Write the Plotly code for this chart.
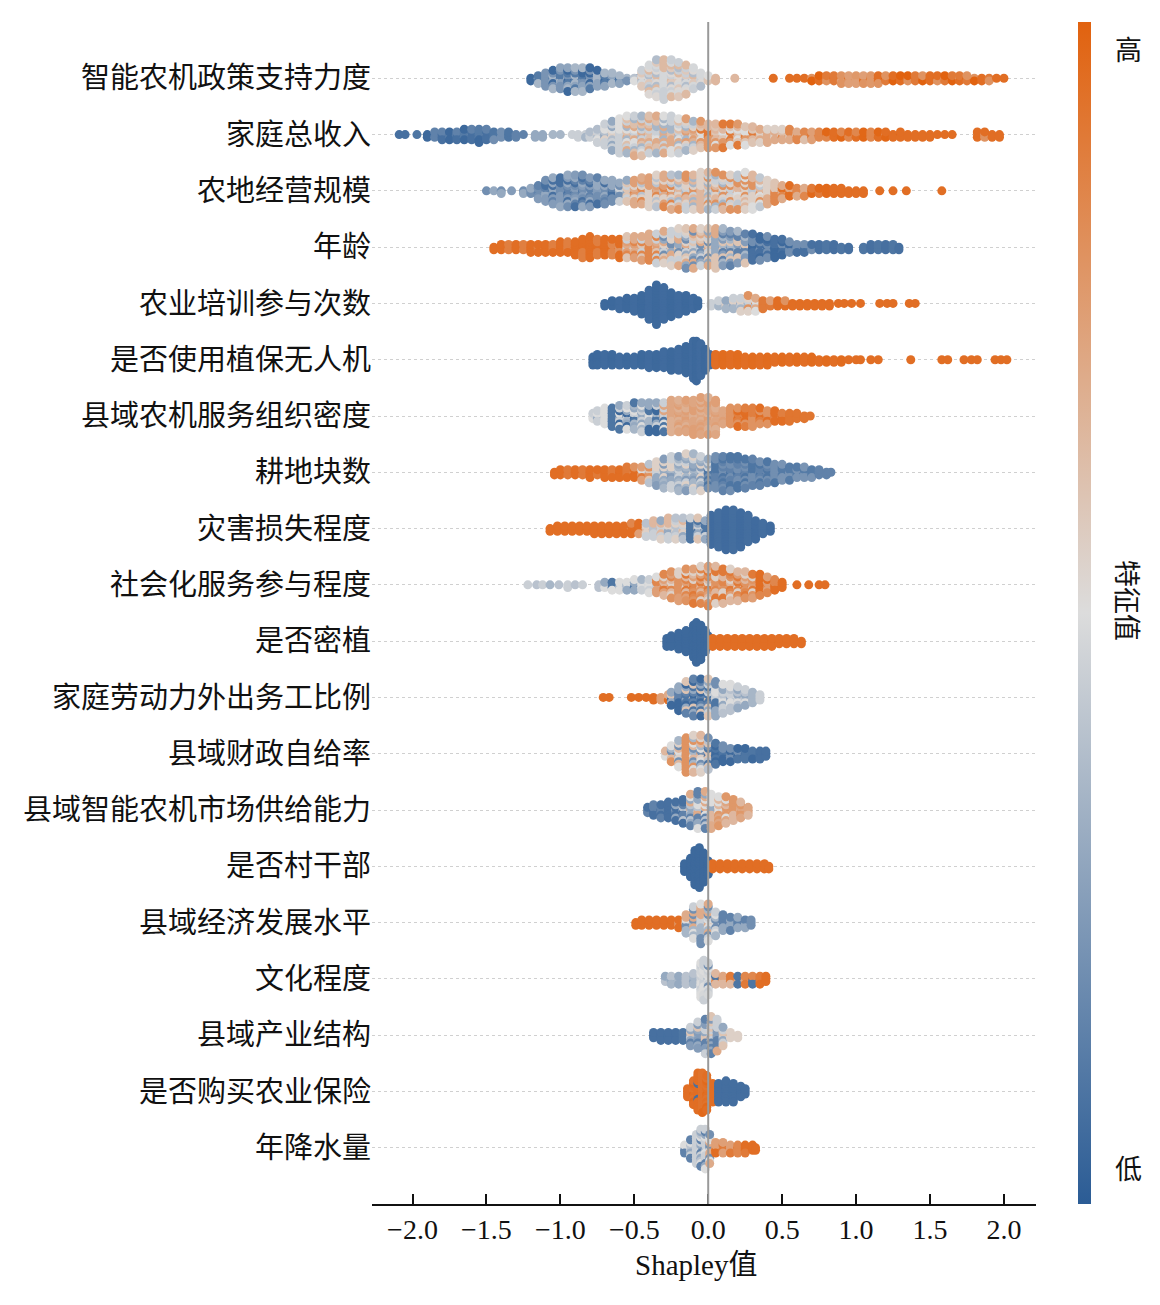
import plotly.graph_objects as go

# feature names, top to bottom
features = [
    "智能农机政策支持力度", "家庭总收入", "农地经营规模", "年龄", "农业培训参与次数",
    "是否使用植保无人机", "县域农机服务组织密度", "耕地块数", "灾害损失程度", "社会化服务参与程度",
    "是否密植", "家庭劳动力外出务工比例", "县域财政自给率", "县域智能农机市场供给能力", "是否村干部",
    "县域经济发展水平", "文化程度", "县域产业结构", "是否购买农业保险", "年降水量",
]

# SHAP value bins, per feature:
# (shap value, number of dots stacked there, feature value(s) 0=low 1=high)
B1 = [0.12, 0.28, 0.05, 0.22, 0.35]
G1 = [0.45, 0.52, 0.38, 0.58, 0.64, 0.48]
O1 = [0.95, 0.8, 0.9, 1.0]
swarm_bins = [
    # 智能农机政策支持力度
    [(-1.20, 2, B1), (-1.15, 4, B1), (-1.10, 6, B1), (-1.05, 8, B1), (-1.00, 9, B1), (-0.95, 10, B1),
     (-0.90, 10, B1), (-0.85, 10, B1), (-0.80, 9, B1), (-0.75, 7, B1), (-0.70, 6, B1), (-0.65, 5, B1),
     (-0.60, 4, B1), (-0.55, 2, B1), (-0.47, 1, 0.05),
     (-0.50, 2, [0.4, 0.5]), (-0.45, 7, G1), (-0.40, 12, G1), (-0.35, 15, G1), (-0.30, 16, G1),
     (-0.25, 15, G1), (-0.20, 14, G1), (-0.15, 12, G1), (-0.10, 9, G1), (-0.05, 6, G1), (0.00, 3, [0.6, 0.5]),
     (0.05, 2, 0.65), (0.18, 1, 0.65),
     (0.44, 1, 0.95), (0.55, 1, 0.95), (0.60, 1, 0.95), (0.65, 1, 0.95), (0.70, 2, O1), (0.75, 3, O1),
     (0.80, 3, O1), (0.85, 3, O1), (0.90, 4, [0.8, 0.75, 0.95]), (0.95, 4, [0.8, 0.75, 0.95]),
     (1.00, 4, [0.78, 0.9, 0.75]), (1.05, 4, [0.8, 0.75, 0.95]), (1.10, 4, [0.78, 0.9]), (1.15, 4, [0.8, 0.95]),
     (1.20, 3, O1), (1.25, 3, O1), (1.30, 3, O1), (1.35, 3, O1), (1.40, 3, O1), (1.45, 3, O1), (1.50, 3, O1),
     (1.55, 3, O1), (1.60, 3, O1), (1.65, 3, O1), (1.70, 3, O1), (1.75, 3, O1), (1.80, 2, O1), (1.85, 2, O1),
     (1.90, 2, O1), (1.95, 1, 0.95), (2.00, 1, 0.95)],
    # 家庭总收入
    [(-2.09, 1, 0.08), (-2.05, 1, 0.08), (-1.97, 1, 0.1), (-1.90, 2, [0.05, 0.15]), (-1.85, 3, [0.05, 0.15]),
     (-1.80, 4, [0.08, 0.15]), (-1.75, 4, [0.05, 0.12]), (-1.70, 4, [0.08, 0.15]), (-1.65, 5, [0.05, 0.12]),
     (-1.60, 5, [0.08, 0.15]), (-1.55, 6, [0.05, 0.12]), (-1.50, 5, [0.08, 0.15]), (-1.45, 4, [0.1, 0.2]),
     (-1.40, 3, [0.12, 0.2]), (-1.35, 3, [0.1, 0.2]), (-1.30, 2, 0.15), (-1.25, 1, 0.15),
     (-1.17, 2, 0.3), (-1.12, 2, 0.3), (-1.05, 1, 0.35), (-1.00, 1, 0.35),
     (-0.92, 1, 0.45), (-0.88, 2, [0.45, 0.4]), (-0.83, 2, [0.45, 0.35]),
     (-0.80, 3, [0.45, 0.38]), (-0.75, 6, [0.45, 0.38, 0.55, 0.5, 0.3]), (-0.70, 9, [0.45, 0.38, 0.55, 0.5, 0.3]),
     (-0.65, 12, [0.45, 0.38, 0.55, 0.5, 0.3]), (-0.60, 14, [0.45, 0.38, 0.55, 0.5, 0.3]),
     (-0.55, 15, [0.5, 0.62, 0.45, 0.7, 0.35]), (-0.50, 16, [0.5, 0.62, 0.45, 0.7, 0.35]),
     (-0.45, 16, [0.5, 0.62, 0.45, 0.7, 0.35]), (-0.40, 15, [0.5, 0.62, 0.45, 0.7, 0.35]),
     (-0.35, 15, [0.5, 0.62, 0.45, 0.7, 0.35]), (-0.30, 15, [0.5, 0.62, 0.45, 0.7, 0.35]),
     (-0.25, 15, [0.5, 0.62, 0.45, 0.7, 0.35]), (-0.20, 14, [0.5, 0.62, 0.45, 0.7, 0.35]),
     (-0.15, 13, [0.55, 0.68, 0.45, 0.75, 0.35]), (-0.10, 12, [0.55, 0.68, 0.45, 0.75, 0.35]),
     (-0.05, 11, [0.65, 0.78, 0.5, 0.9, 0.6]), (0.00, 10, [0.65, 0.78, 0.5, 0.9, 0.6]),
     (0.05, 10, [0.65, 0.78, 0.5, 0.9, 0.6]), (0.10, 10, [0.65, 0.78, 0.5, 0.9, 0.6]),
     (0.15, 9, [0.65, 0.78, 0.5, 0.9, 0.6]), (0.20, 9, [0.65, 0.78, 0.5, 0.9, 0.6]),
     (0.25, 8, [0.65, 0.78, 0.5, 0.9, 0.6]), (0.30, 7, [0.65, 0.78, 0.5, 0.9, 0.6]),
     (0.35, 6, [0.7, 0.55, 0.85, 0.62]), (0.40, 6, [0.7, 0.55, 0.85, 0.62]), (0.45, 5, [0.7, 0.55, 0.85, 0.62]),
     (0.50, 5, [0.7, 0.55, 0.85, 0.62]), (0.55, 5, [0.7, 0.55, 0.85, 0.62]), (0.60, 4, [0.7, 0.85, 0.62]),
     (0.65, 4, [0.7, 0.85, 0.62]), (0.70, 4, [0.75, 0.9]), (0.75, 3, [0.85, 0.95]),
     (0.80, 3, [0.95, 0.85, 0.98]), (0.85, 3, [0.95, 0.85, 0.98]), (0.90, 3, [0.95, 0.85, 0.98]),
     (0.95, 3, [0.95, 0.85, 0.98]), (1.00, 3, [0.95, 0.85, 0.98]), (1.05, 3, [0.95, 0.85, 0.98]),
     (1.10, 3, [0.95, 0.85, 0.98]), (1.15, 3, [0.95, 0.85, 0.98]), (1.20, 3, [0.95, 0.85, 0.98]),
     (1.25, 2, 0.95), (1.30, 3, [0.95, 0.85, 0.98]), (1.35, 2, 0.95), (1.40, 2, 0.95), (1.45, 2, 0.95),
     (1.50, 2, 0.95), (1.55, 1, 0.95), (1.60, 1, 0.95), (1.65, 1, 0.95),
     (1.82, 3, [0.95, 0.8]), (1.87, 3, [0.95, 0.8]), (1.92, 2, 0.95), (1.97, 2, 0.95)],
    # 农地经营规模
    [(-1.50, 1, 0.2), (-1.45, 1, 0.3), (-1.40, 2, [0.2, 0.3]), (-1.33, 1, 0.25), (-1.25, 2, [0.2, 0.3]),
     (-1.20, 3, [0.2, 0.3]),
     (-1.15, 6, [0.15, 0.25, 0.08, 0.3, 0.2]), (-1.10, 9, [0.15, 0.25, 0.08, 0.3, 0.2]),
     (-1.05, 11, [0.15, 0.25, 0.08, 0.3, 0.2]), (-1.00, 12, [0.15, 0.25, 0.08, 0.3, 0.2]),
     (-0.95, 13, [0.15, 0.25, 0.08, 0.3, 0.2]), (-0.90, 13, [0.15, 0.25, 0.08, 0.3, 0.2]),
     (-0.85, 13, [0.15, 0.25, 0.08, 0.3, 0.2]), (-0.80, 12, [0.15, 0.25, 0.08, 0.3, 0.2]),
     (-0.75, 11, [0.15, 0.25, 0.08, 0.3, 0.2]), (-0.70, 10, [0.15, 0.25, 0.08, 0.3, 0.2]),
     (-0.65, 9, [0.15, 0.25, 0.08, 0.3, 0.2]), (-0.60, 8, [0.2, 0.3, 0.45]),
     (-0.55, 9, [0.3, 0.6, 0.45]), (-0.50, 10, [0.7, 0.85, 0.55, 0.4, 0.75]),
     (-0.45, 11, [0.7, 0.85, 0.55, 0.4, 0.75]), (-0.40, 12, [0.7, 0.85, 0.55, 0.4, 0.75]),
     (-0.35, 13, [0.7, 0.85, 0.55, 0.4, 0.75]), (-0.30, 13, [0.7, 0.85, 0.55, 0.4, 0.75]),
     (-0.25, 14, [0.7, 0.85, 0.55, 0.4, 0.75]), (-0.20, 14, [0.65, 0.45, 0.8, 0.55, 0.35]),
     (-0.15, 14, [0.65, 0.45, 0.8, 0.55, 0.35]), (-0.10, 14, [0.65, 0.45, 0.8, 0.55, 0.35]),
     (-0.05, 15, [0.65, 0.45, 0.8, 0.55, 0.35]), (0.00, 15, [0.65, 0.45, 0.8, 0.55, 0.35]),
     (0.05, 15, [0.65, 0.45, 0.8, 0.55, 0.35]), (0.10, 14, [0.65, 0.45, 0.8, 0.55, 0.35]),
     (0.15, 14, [0.65, 0.45, 0.8, 0.55, 0.35]), (0.20, 14, [0.5, 0.42, 0.65, 0.55, 0.8]),
     (0.25, 15, [0.5, 0.42, 0.65, 0.55, 0.8]), (0.30, 14, [0.5, 0.42, 0.65, 0.55, 0.8]),
     (0.35, 12, [0.5, 0.42, 0.65, 0.55, 0.8]), (0.40, 10, [0.55, 0.7, 0.45, 0.8]),
     (0.45, 8, [0.6, 0.75, 0.85]),
     (0.50, 6, [0.85, 0.95, 0.7]), (0.55, 5, [0.85, 0.95, 0.7]), (0.60, 4, [0.85, 0.95, 0.7]),
     (0.65, 4, [0.85, 0.95, 0.7]), (0.70, 3, [0.9, 0.97]), (0.75, 3, [0.9, 0.97]), (0.80, 3, [0.95, 0.97]),
     (0.85, 3, 0.95), (0.90, 3, 0.95), (0.95, 2, 0.95), (1.00, 2, 0.95), (1.05, 2, 0.95),
     (1.16, 1, 0.95), (1.25, 1, 0.95), (1.34, 1, 0.95), (1.58, 1, 0.95)],
    # 年龄
    [(-1.45, 2, 0.95), (-1.40, 3, 0.95), (-1.35, 3, [0.95, 0.88]), (-1.30, 3, 0.95), (-1.25, 3, [0.95, 0.88]),
     (-1.20, 4, 0.95), (-1.15, 4, [0.95, 0.88]), (-1.10, 4, 0.95), (-1.05, 4, [0.95, 0.88]), (-1.00, 5, 0.95),
     (-0.95, 5, [0.95, 0.88]), (-0.90, 6, 0.95), (-0.85, 8, [0.95, 0.88]), (-0.80, 9, 0.95),
     (-0.75, 7, [0.95, 0.88]), (-0.70, 7, 0.95), (-0.65, 7, [0.95, 0.85]), (-0.60, 8, [0.95, 0.8]),
     (-0.55, 9, [0.75, 0.6, 0.85, 0.45, 0.7]), (-0.50, 9, [0.75, 0.6, 0.85, 0.45, 0.7]),
     (-0.45, 10, [0.75, 0.6, 0.85, 0.45, 0.7]), (-0.40, 11, [0.75, 0.6, 0.85, 0.45, 0.7]),
     (-0.35, 12, [0.75, 0.6, 0.85, 0.45, 0.7]), (-0.30, 13, [0.6, 0.3, 0.7, 0.45, 0.55, 0.2]),
     (-0.25, 14, [0.6, 0.3, 0.7, 0.45, 0.55, 0.2]), (-0.20, 15, [0.6, 0.3, 0.7, 0.45, 0.55, 0.2]),
     (-0.15, 16, [0.6, 0.3, 0.7, 0.45, 0.55, 0.2]), (-0.10, 16, [0.6, 0.3, 0.7, 0.45, 0.55, 0.2]),
     (-0.05, 15, [0.6, 0.3, 0.7, 0.45, 0.55, 0.2]), (0.00, 15, [0.6, 0.3, 0.7, 0.45, 0.55, 0.2]),
     (0.05, 16, [0.6, 0.3, 0.7, 0.45, 0.55, 0.2]), (0.10, 15, [0.35, 0.15, 0.6, 0.25]),
     (0.15, 14, [0.35, 0.15, 0.6, 0.25]), (0.20, 13, [0.35, 0.15, 0.6, 0.25]),
     (0.25, 12, [0.35, 0.15, 0.6, 0.25]),
     (0.30, 11, [0.08, 0.2, 0.05]), (0.35, 10, [0.08, 0.2, 0.05]), (0.40, 9, [0.08, 0.2, 0.05]),
     (0.45, 8, [0.08, 0.2, 0.05]), (0.50, 7, [0.08, 0.2, 0.05]), (0.55, 5, [0.08, 0.2, 0.05]),
     (0.60, 4, [0.08, 0.2]), (0.65, 4, [0.08, 0.2]), (0.70, 3, [0.08, 0.2]), (0.75, 3, 0.08),
     (0.80, 3, 0.1), (0.85, 3, 0.08), (0.90, 2, 0.1), (0.95, 2, 0.08), (1.05, 2, 0.1), (1.10, 3, 0.08),
     (1.15, 3, 0.1), (1.20, 3, 0.08), (1.25, 3, 0.1), (1.29, 2, 0.08)],
    # 农业培训参与次数
    [(-0.70, 2, 0.05), (-0.65, 3, 0.05), (-0.60, 4, 0.06), (-0.55, 5, 0.05), (-0.50, 6, 0.06),
     (-0.45, 8, 0.05), (-0.40, 12, 0.06), (-0.35, 16, 0.05), (-0.30, 13, 0.06), (-0.25, 10, 0.05),
     (-0.20, 8, 0.06), (-0.15, 7, 0.05), (-0.10, 5, 0.06), (-0.07, 3, 0.05),
     (0.02, 2, 0.45), (0.07, 3, [0.45, 0.35]), (0.12, 4, [0.45, 0.35, 0.55, 0.3]),
     (0.17, 5, [0.45, 0.35, 0.55, 0.3]), (0.22, 6, [0.45, 0.35, 0.55, 0.3]),
     (0.27, 7, [0.45, 0.35, 0.55, 0.3, 0.8]), (0.32, 6, [0.5, 0.7, 0.4, 0.85]),
     (0.37, 4, [0.7, 0.9]), (0.42, 3, [0.9, 0.75]), (0.47, 3, 0.95), (0.52, 3, [0.95, 0.8]),
     (0.57, 2, 0.95), (0.62, 2, 0.95), (0.67, 2, 0.95), (0.72, 2, 0.95), (0.77, 2, 0.95),
     (0.82, 2, 0.95), (0.88, 1, 0.95), (0.92, 1, 0.95), (0.97, 1, 0.95), (1.03, 1, 0.95),
     (1.16, 1, 0.95), (1.21, 1, 0.95), (1.25, 1, 0.95), (1.36, 1, 0.95), (1.40, 1, 0.95)],
    # 是否使用植保无人机
    [(-0.78, 4, 0.05), (-0.75, 5, 0.05), (-0.70, 5, 0.06), (-0.65, 5, 0.05), (-0.60, 4, 0.06),
     (-0.55, 4, 0.05), (-0.50, 4, 0.06), (-0.45, 5, 0.05), (-0.40, 6, 0.06), (-0.35, 6, 0.05),
     (-0.30, 7, 0.06), (-0.25, 8, 0.05), (-0.20, 9, 0.06), (-0.15, 11, 0.05), (-0.10, 15, 0.06),
     (-0.08, 16, 0.05), (-0.05, 13, 0.06), (-0.02, 9, 0.05), (0.01, 5, 0.06),
     (0.05, 5, 0.95), (0.10, 5, 0.96), (0.15, 5, 0.95), (0.20, 5, 0.96), (0.25, 4, 0.95), (0.30, 4, 0.96),
     (0.35, 4, 0.95), (0.40, 4, 0.96), (0.45, 3, 0.95), (0.50, 3, 0.96), (0.55, 3, 0.95), (0.60, 3, 0.96),
     (0.65, 3, 0.95), (0.70, 3, 0.96), (0.75, 2, 0.95), (0.80, 2, 0.96), (0.85, 2, 0.95), (0.90, 2, 0.96),
     (0.95, 1, 0.95), (1.00, 1, 0.95), (1.03, 1, 0.95), (1.10, 1, 0.95), (1.15, 1, 0.95),
     (1.37, 1, 0.95), (1.58, 1, 0.95), (1.62, 1, 0.95), (1.73, 1, 0.95), (1.78, 1, 0.95), (1.82, 1, 0.95),
     (1.94, 1, 0.95), (1.98, 1, 0.95), (2.02, 1, 0.95)],
    # 县域农机服务组织密度
    [(-0.78, 3, [0.45, 0.5]), (-0.75, 5, [0.45, 0.3, 0.5]), (-0.70, 7, [0.45, 0.3, 0.1, 0.5, 0.35]),
     (-0.65, 8, [0.45, 0.3, 0.1, 0.5, 0.35, 0.05]), (-0.60, 10, [0.45, 0.3, 0.1, 0.5, 0.35, 0.05]),
     (-0.55, 10, [0.45, 0.3, 0.1, 0.5, 0.35, 0.05]), (-0.50, 11, [0.45, 0.3, 0.1, 0.5, 0.35, 0.05]),
     (-0.45, 12, [0.45, 0.3, 0.1, 0.5, 0.35, 0.05]), (-0.40, 12, [0.45, 0.3, 0.1, 0.5, 0.35, 0.05]),
     (-0.35, 12, [0.45, 0.3, 0.1, 0.5, 0.35, 0.05]), (-0.30, 12, [0.5, 0.72, 0.1, 0.45]),
     (-0.25, 13, [0.72, 0.68, 0.75]), (-0.20, 13, [0.72, 0.68, 0.75]), (-0.15, 13, [0.72, 0.68, 0.75]),
     (-0.10, 14, [0.72, 0.68, 0.75]), (-0.05, 15, [0.72, 0.68, 0.75]), (0.00, 15, [0.72, 0.68, 0.75]),
     (0.05, 14, [0.72, 0.68, 0.75]), (0.10, 6, [0.72, 0.75]),
     (0.15, 7, [0.88, 0.95, 0.8]), (0.20, 8, [0.88, 0.95, 0.8]), (0.25, 8, [0.88, 0.95, 0.8]),
     (0.30, 8, [0.88, 0.95, 0.8]), (0.35, 7, [0.88, 0.95, 0.8]), (0.40, 6, [0.88, 0.95, 0.8]),
     (0.45, 5, [0.88, 0.95]), (0.50, 4, [0.88, 0.95]), (0.55, 4, 0.92), (0.60, 3, 0.92), (0.65, 2, 0.92),
     (0.69, 1, 0.92)],
    # 耕地块数
    [(-1.04, 2, 0.95), (-1.00, 3, 0.95), (-0.95, 3, [0.95, 0.9]), (-0.90, 3, 0.95), (-0.85, 3, [0.95, 0.9]),
     (-0.80, 4, 0.95), (-0.75, 3, [0.95, 0.9]), (-0.70, 4, 0.95), (-0.65, 4, [0.95, 0.9]), (-0.60, 4, 0.95),
     (-0.55, 5, [0.95, 0.9]), (-0.50, 5, [0.95, 0.8]), (-0.45, 6, [0.75, 0.9, 0.5]), (-0.40, 8, [0.6, 0.4, 0.8]),
     (-0.35, 10, [0.35, 0.45, 0.25, 0.55, 0.3]), (-0.30, 12, [0.35, 0.45, 0.25, 0.55, 0.3]),
     (-0.25, 13, [0.35, 0.45, 0.25, 0.55, 0.3]), (-0.20, 14, [0.35, 0.45, 0.25, 0.55, 0.3]),
     (-0.15, 15, [0.35, 0.45, 0.25, 0.55, 0.3]), (-0.10, 15, [0.35, 0.45, 0.25, 0.55, 0.3]),
     (-0.05, 14, [0.35, 0.45, 0.25, 0.55, 0.3]), (0.00, 12, [0.3, 0.2, 0.45, 0.1]),
     (0.05, 13, [0.1, 0.2, 0.15]), (0.10, 14, [0.1, 0.2, 0.15]), (0.15, 14, [0.1, 0.2, 0.15]),
     (0.20, 13, [0.1, 0.2, 0.15]), (0.25, 12, [0.1, 0.2, 0.15]), (0.30, 11, [0.1, 0.2, 0.15]),
     (0.35, 10, [0.1, 0.2, 0.15]), (0.40, 9, [0.1, 0.2, 0.15]), (0.45, 8, [0.1, 0.2, 0.15]),
     (0.50, 7, [0.12, 0.22]), (0.55, 6, [0.12, 0.22]), (0.60, 5, [0.12, 0.22]), (0.65, 5, [0.12, 0.22]),
     (0.70, 4, [0.12, 0.22]), (0.75, 3, 0.15), (0.80, 2, 0.15), (0.83, 1, 0.15)],
    # 灾害损失程度
    [(-1.07, 2, 0.95), (-1.02, 3, 0.95), (-0.97, 3, 0.95), (-0.92, 3, 0.95), (-0.87, 3, 0.95),
     (-0.82, 3, 0.95), (-0.77, 4, 0.95), (-0.72, 4, 0.95), (-0.67, 4, 0.95), (-0.62, 4, 0.95),
     (-0.57, 4, 0.95), (-0.52, 5, [0.95, 0.85]), (-0.47, 5, [0.95, 0.75]),
     (-0.42, 6, [0.55, 0.4, 0.3, 0.65, 0.45]), (-0.37, 7, [0.55, 0.4, 0.3, 0.65, 0.45]),
     (-0.32, 8, [0.55, 0.4, 0.3, 0.65, 0.45]), (-0.27, 9, [0.55, 0.4, 0.3, 0.65, 0.45]),
     (-0.22, 9, [0.55, 0.4, 0.3, 0.65, 0.45]), (-0.17, 9, [0.55, 0.4, 0.3, 0.65, 0.45]),
     (-0.12, 9, [0.55, 0.4, 0.3, 0.65, 0.45, 0.1]), (-0.07, 9, [0.45, 0.3, 0.1, 0.6]),
     (-0.02, 8, [0.3, 0.1, 0.45]),
     (0.02, 12, 0.06), (0.07, 14, 0.07), (0.12, 16, 0.06), (0.17, 16, 0.07), (0.22, 14, 0.06),
     (0.27, 11, 0.07), (0.32, 8, 0.06), (0.37, 5, 0.07), (0.42, 3, 0.06)],
    # 社会化服务参与程度
    [(-1.22, 1, 0.45), (-1.16, 1, 0.4), (-1.12, 1, 0.45), (-1.07, 1, 0.35), (-1.01, 1, 0.4),
     (-0.95, 2, [0.45, 0.35]), (-0.90, 1, 0.4), (-0.85, 1, 0.45),
     (-0.74, 2, [0.1, 0.4]), (-0.70, 3, [0.4, 0.3, 0.5]), (-0.65, 4, [0.4, 0.3, 0.5, 0.1]),
     (-0.60, 4, [0.4, 0.3, 0.5, 0.1]), (-0.55, 4, [0.4, 0.3, 0.5]), (-0.50, 5, [0.4, 0.3, 0.5, 0.1]),
     (-0.45, 5, [0.45, 0.5, 0.35]), (-0.40, 6, [0.5, 0.45, 0.6]), (-0.35, 7, [0.5, 0.75, 0.45, 0.85]),
     (-0.30, 9, [0.75, 0.85, 0.65, 0.9, 0.55, 0.8]), (-0.25, 11, [0.75, 0.85, 0.65, 0.9, 0.55, 0.8]),
     (-0.20, 12, [0.75, 0.85, 0.65, 0.9, 0.55, 0.8]), (-0.15, 13, [0.75, 0.85, 0.65, 0.9, 0.55, 0.8]),
     (-0.10, 14, [0.75, 0.85, 0.65, 0.9, 0.55, 0.8]), (-0.05, 15, [0.75, 0.85, 0.65, 0.9, 0.55, 0.8]),
     (0.00, 16, [0.75, 0.85, 0.65, 0.9, 0.55, 0.8]), (0.05, 15, [0.75, 0.85, 0.65, 0.9, 0.55, 0.8]),
     (0.10, 14, [0.75, 0.85, 0.65, 0.9, 0.55, 0.8]), (0.15, 13, [0.75, 0.85, 0.65, 0.9, 0.55, 0.8]),
     (0.20, 12, [0.75, 0.85, 0.65, 0.9, 0.55, 0.8]), (0.25, 11, [0.75, 0.85, 0.65, 0.9, 0.55, 0.8]),
     (0.30, 10, [0.75, 0.85, 0.65, 0.9, 0.55, 0.8]), (0.35, 9, [0.85, 0.95, 0.75]),
     (0.40, 7, [0.85, 0.95, 0.75]), (0.45, 5, [0.85, 0.95]), (0.50, 3, 0.95),
     (0.60, 1, 0.95), (0.68, 1, 0.95), (0.75, 1, 0.95), (0.79, 1, 0.95)],
    # 是否密植
    [(-0.28, 4, 0.05), (-0.25, 5, 0.05), (-0.20, 7, 0.05), (-0.15, 9, 0.05), (-0.10, 13, 0.05),
     (-0.08, 16, 0.05), (-0.05, 14, 0.05), (-0.02, 9, 0.05), (0.00, 5, 0.05),
     (0.03, 4, 0.95), (0.08, 4, 0.95), (0.13, 4, 0.95), (0.18, 4, 0.95), (0.23, 4, 0.95), (0.28, 4, 0.95),
     (0.33, 4, 0.95), (0.38, 4, 0.95), (0.43, 4, 0.95), (0.48, 3, 0.95), (0.53, 3, 0.95), (0.58, 3, 0.95),
     (0.63, 2, 0.95)],
    # 家庭劳动力外出务工比例
    [(-0.71, 1, 0.95), (-0.67, 1, 0.95), (-0.52, 1, 0.95), (-0.47, 1, 0.95), (-0.42, 1, 0.95),
     (-0.37, 2, [0.95, 0.7]), (-0.32, 2, [0.95, 0.75]), (-0.27, 3, [0.95, 0.7]),
     (-0.25, 6, [0.1, 0.05, 0.3, 0.6, 0.15]), (-0.20, 10, [0.1, 0.05, 0.3, 0.6, 0.15]),
     (-0.15, 13, [0.1, 0.05, 0.3, 0.6, 0.15]), (-0.10, 15, [0.1, 0.05, 0.3, 0.6, 0.15]),
     (-0.05, 15, [0.1, 0.05, 0.3, 0.6, 0.15]), (0.00, 15, [0.1, 0.45, 0.3, 0.6, 0.15]),
     (0.05, 14, [0.2, 0.45, 0.3, 0.5, 0.1]),
     (0.10, 12, [0.4, 0.5, 0.3, 0.45]), (0.15, 11, [0.4, 0.5, 0.3, 0.45]), (0.20, 9, [0.4, 0.5, 0.3, 0.45]),
     (0.25, 7, [0.4, 0.5, 0.3, 0.45]), (0.30, 5, [0.45, 0.35]), (0.35, 3, 0.45)],
    # 县域财政自给率
    [(-0.29, 3, [0.65, 0.5]), (-0.25, 7, [0.65, 0.5, 0.8, 0.35, 0.55, 0.2]),
     (-0.20, 11, [0.65, 0.5, 0.8, 0.35, 0.55, 0.2]), (-0.15, 14, [0.65, 0.5, 0.8, 0.35, 0.55, 0.2]),
     (-0.10, 15, [0.65, 0.5, 0.8, 0.35, 0.55, 0.2]), (-0.05, 15, [0.65, 0.5, 0.8, 0.35, 0.55, 0.2]),
     (0.00, 13, [0.4, 0.2, 0.6, 0.1]),
     (0.05, 9, [0.1, 0.05, 0.2]), (0.10, 7, [0.1, 0.05, 0.2]), (0.15, 6, [0.1, 0.05, 0.2]),
     (0.20, 5, [0.1, 0.05, 0.2]), (0.25, 5, [0.1, 0.05]), (0.30, 4, [0.1, 0.05]), (0.35, 4, 0.08),
     (0.39, 3, 0.08)],
    # 县域智能农机市场供给能力
    [(-0.41, 3, [0.08, 0.15]), (-0.37, 5, [0.08, 0.15]), (-0.32, 6, [0.08, 0.15]), (-0.27, 7, [0.08, 0.15]),
     (-0.22, 8, [0.08, 0.15, 0.3]), (-0.17, 10, [0.08, 0.15, 0.4]),
     (-0.12, 13, [0.4, 0.15, 0.5, 0.7, 0.3]), (-0.07, 15, [0.4, 0.15, 0.5, 0.7, 0.3]),
     (-0.02, 15, [0.4, 0.15, 0.5, 0.7, 0.3]), (0.02, 14, [0.4, 0.65, 0.5, 0.7, 0.3]),
     (0.07, 12, [0.72, 0.65, 0.78, 0.5]), (0.12, 11, [0.72, 0.65, 0.78, 0.5]),
     (0.17, 9, [0.72, 0.65, 0.78, 0.5]), (0.22, 7, [0.72, 0.65, 0.78]), (0.27, 4, [0.72, 0.65])],
    # 是否村干部
    [(-0.16, 4, 0.05), (-0.12, 8, 0.05), (-0.09, 14, 0.05), (-0.06, 16, 0.05), (-0.03, 12, 0.05),
     (0.00, 6, 0.05),
     (0.03, 3, 0.95), (0.08, 3, 0.95), (0.13, 3, 0.95), (0.18, 3, 0.95), (0.23, 3, 0.95), (0.28, 3, 0.95),
     (0.33, 3, 0.95), (0.38, 3, 0.95), (0.41, 2, 0.95)],
    # 县域经济发展水平
    [(-0.49, 2, 0.95), (-0.45, 3, 0.95), (-0.40, 3, 0.95), (-0.35, 3, 0.95), (-0.30, 3, 0.95),
     (-0.25, 3, 0.95), (-0.20, 4, [0.95, 0.8]),
     (-0.15, 8, [0.5, 0.35, 0.7, 0.2, 0.45]), (-0.10, 13, [0.5, 0.35, 0.7, 0.2, 0.45]),
     (-0.05, 16, [0.5, 0.35, 0.7, 0.2, 0.45]), (0.00, 15, [0.5, 0.35, 0.7, 0.2, 0.45]),
     (0.05, 10, [0.5, 0.35, 0.2, 0.45]),
     (0.10, 7, [0.15, 0.3]), (0.15, 6, [0.15, 0.3]), (0.20, 5, [0.15, 0.3]), (0.25, 4, [0.15, 0.3]),
     (0.29, 3, 0.2)],
    # 文化程度
    [(-0.29, 3, [0.35, 0.3, 0.4]), (-0.25, 4, [0.35, 0.3, 0.4]), (-0.20, 4, [0.35, 0.3, 0.4]),
     (-0.15, 4, [0.35, 0.3, 0.4]), (-0.10, 5, [0.35, 0.3, 0.4]),
     (-0.05, 14, [0.48, 0.5, 0.45]), (-0.03, 16, [0.48, 0.5, 0.45]), (0.00, 13, [0.48, 0.5, 0.45, 0.2]),
     (0.05, 5, [0.72, 0.85, 0.65, 0.1, 0.9]), (0.10, 4, [0.72, 0.85, 0.65, 0.9]),
     (0.15, 4, [0.72, 0.85, 0.65, 0.9]), (0.20, 4, [0.72, 0.85, 0.1, 0.9]),
     (0.25, 4, [0.72, 0.9, 0.85]), (0.30, 4, [0.85, 0.95, 0.1]), (0.35, 4, [0.9, 0.95]), (0.39, 3, 0.95)],
    # 县域产业结构
    [(-0.37, 3, 0.08), (-0.32, 4, 0.08), (-0.27, 4, 0.08), (-0.22, 4, 0.08), (-0.17, 4, 0.1),
     (-0.12, 8, [0.3, 0.15, 0.45, 0.6, 0.25]), (-0.07, 11, [0.3, 0.15, 0.45, 0.6, 0.25]),
     (-0.02, 14, [0.3, 0.15, 0.45, 0.6, 0.25]), (0.02, 15, [0.3, 0.15, 0.45, 0.6, 0.25]),
     (0.06, 13, [0.3, 0.15, 0.45, 0.7, 0.25]), (0.10, 8, [0.3, 0.45, 0.6]),
     (0.15, 3, [0.55, 0.7]), (0.20, 2, [0.55, 0.7])],
    # 是否购买农业保险
    [(-0.14, 4, 0.95), (-0.10, 10, [0.95, 0.97, 0.93]), (-0.07, 15, [0.95, 0.95, 0.95, 0.95, 0.95, 0.08]),
     (-0.04, 16, [0.95, 0.97, 0.93]), (-0.01, 14, [0.95, 0.97, 0.93]), (0.03, 8, 0.95),
     (0.07, 8, 0.07), (0.12, 9, 0.07), (0.17, 8, 0.07), (0.22, 5, 0.07), (0.25, 3, 0.07)],
    # 年降水量
    [(-0.16, 4, [0.4, 0.5, 0.15]), (-0.12, 8, [0.4, 0.5, 0.15, 0.45, 0.3]),
     (-0.08, 12, [0.4, 0.5, 0.15, 0.45, 0.3]), (-0.05, 15, [0.4, 0.5, 0.15, 0.45, 0.3]),
     (-0.02, 16, [0.45, 0.5, 0.15, 0.45, 0.3]), (0.01, 12, [0.5, 0.7, 0.2]),
     (0.05, 5, [0.75, 0.9, 0.95]), (0.10, 5, [0.75, 0.9, 0.95]), (0.15, 4, [0.75, 0.9, 0.95]),
     (0.20, 4, [0.85, 0.95]), (0.25, 4, [0.9, 0.95]), (0.30, 3, 0.95), (0.32, 2, 0.95)],
]

x_ticks = [-2.0, -1.5, -1.0, -0.5, 0.0, 0.5, 1.0, 1.5, 2.0]

colorscale = [[0.0, "#2b5c95"], [0.5, "#dcdcdc"], [1.0, "#e1620f"]]

# build swarm points: dots of each bin stacked around the row line,
# the bin's colours are dealt out in a scrambled order so no stripes show
dy = 0.047
px, py, pc = [], [], []
for row, bins in enumerate(swarm_bins):
    for j, (x, n, c) in enumerate(bins):
        cols = c if isinstance(c, list) else [c]
        for k in range(n):
            p = ((k + 1) // 2) * (1 if k % 2 else -1)
            px.append(x)
            py.append(row + p * dy)
            h = ((p + 20) * 37 + (j + 3) * 53 + (p + 20) * (j + 3) * 11) % 97
            pc.append(cols[h % len(cols)])

fig = go.Figure()
fig.add_trace(go.Scatter(
    x=px, y=py, mode="markers", hoverinfo="skip", showlegend=False,
    marker=dict(size=9, color=pc, cmin=0, cmax=1, colorscale=colorscale, line=dict(width=0),
                colorbar=dict(thickness=13, len=1.0, lenmode="fraction", x=1.063, xanchor="left",
                              xpad=0, ypad=0, y=0.5, yanchor="middle", outlinewidth=0,
                              showticklabels=False, ticks="")),
))

fig.add_shape(type="line", xref="x", yref="paper", x0=0, x1=0, y0=0, y1=1,
              line=dict(color="#999999", width=2), layer="above")

serif = "Liberation Serif, Times New Roman, Noto Sans CJK SC"
cjk = dict(family="Noto Sans CJK SC", size=27, color="#111")
fig.add_annotation(text="高", xref="paper", yref="paper", x=1.1386, y=0.978, showarrow=False,
                   xanchor="center", yanchor="middle", font=cjk)
fig.add_annotation(text="低", xref="paper", yref="paper", x=1.1386, y=0.031, showarrow=False,
                   xanchor="center", yanchor="middle", font=cjk)
fig.add_annotation(text="特征值", xref="paper", yref="paper", x=1.1386, y=0.511, showarrow=False,
                   xanchor="center", yanchor="middle", textangle=90, font=cjk)
fig.add_annotation(text="Shapley值", xref="paper", yref="paper", x=0.488, y=-0.052, showarrow=False,
                   xanchor="center", yanchor="middle", font=dict(family=serif, size=29, color="#111"))

# the page puts the plot 8px in from the top-left corner, margins allow for that
fig.update_layout(
    width=1160, height=1305,
    margin=dict(l=364, r=132, t=14, b=109),
    paper_bgcolor="white", plot_bgcolor="white",
    xaxis=dict(range=[-2.274, 2.217], tickvals=x_ticks, tickformat=".1f",
               showline=True, linecolor="#111", linewidth=1.5, ticks="inside", ticklen=10,
               tickwidth=1.5, tickcolor="#111", showgrid=False, zeroline=False,
               tickfont=dict(family=serif, size=28, color="#111")),
    yaxis=dict(range=[20, -1], tickvals=list(range(len(features))), ticktext=features,
               showgrid=True, gridcolor="#d0d0d0", griddash="dot", gridwidth=1,
               zeroline=False, showline=False, ticks="",
               tickfont=dict(family="Noto Sans CJK SC", size=29, color="#111")),
)

fig.write_html("out.html")
